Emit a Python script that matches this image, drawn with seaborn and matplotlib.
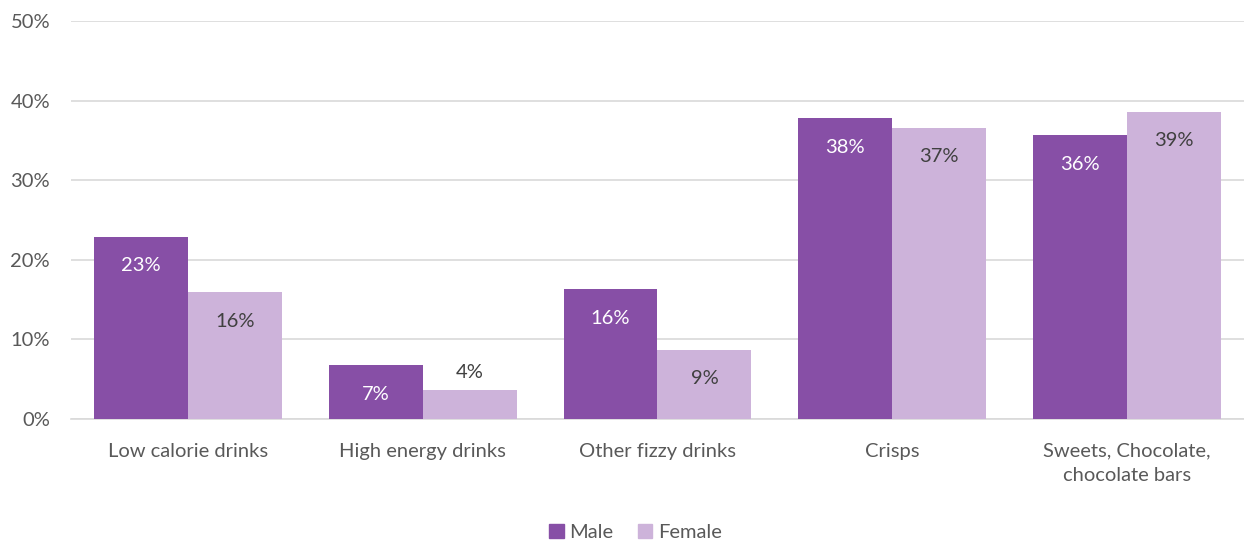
import seaborn as sns
import pandas as pd
import matplotlib.pyplot as plt
from matplotlib.patches import Patch

categories = ["Low calorie drinks", "High energy drinks", "Other fizzy drinks",
              "Crisps", "Sweets, Chocolate,\nchocolate bars"]
male = [22.9, 6.8, 16.3, 37.8, 35.7]
female = [15.9, 3.6, 8.7, 36.6, 38.6]

male_color = "#874FA6"
female_color = "#CDB3DA"

df = pd.DataFrame({
    "category": categories * 2,
    "value": male + female,
    "sex": ["Male"] * len(categories) + ["Female"] * len(categories),
})

sns.set_style("white")
plt.rcParams["font.family"] = ["Lato", "DejaVu Sans"]
fs = 14.5

fig = plt.figure(figsize=(12.44, 5.4), dpi=100)
ax = fig.add_axes([0.057, 0.224, 0.943, 0.737])

sns.barplot(data=df, x="category", y="value", hue="sex",
            palette=[male_color, female_color], order=categories,
            hue_order=["Male", "Female"], width=0.8, saturation=1,
            legend=False, ax=ax, zorder=3, linewidth=0)

ax.set_ylim(0, 50)
ax.set_yticks(range(0, 51, 10))
ax.set_yticklabels([f"{v}%" for v in range(0, 51, 10)])
ax.set_xlim(-0.5, len(categories) - 0.5)
ax.yaxis.grid(True, color="#D9D9D9", linewidth=1.2, zorder=0)
ax.set_axisbelow(True)
for s in ["top", "right", "left"]:
    ax.spines[s].set_visible(False)
ax.spines["bottom"].set_color("#D9D9D9")
ax.spines["bottom"].set_linewidth(1.2)
ax.tick_params(axis="both", length=0, labelsize=fs, labelcolor="#595959")
ax.tick_params(axis="x", pad=17)
ax.tick_params(axis="y", pad=15)
for t in ax.get_xticklabels():
    t.set_linespacing(1.55)
ax.set_xlabel("")
ax.set_ylabel("")

for container, color in zip(ax.containers, ["white", "#404040"]):
    for bar in container:
        h = bar.get_height()
        x = bar.get_x() + bar.get_width() / 2
        label = f"{round(h):.0f}%"
        if h < 5:
            ax.annotate(label, (x, h), xytext=(0, 13), textcoords="offset points",
                        ha="center", va="center", fontsize=fs, color="#404040")
        else:
            ax.annotate(label, (x, h), xytext=(0, -21), textcoords="offset points",
                        ha="center", va="center", fontsize=fs, color=color)

handles = [Patch(color=male_color, label="Male"), Patch(color=female_color, label="Female")]
leg = fig.legend(handles=handles, loc="lower center", bbox_to_anchor=(0.511, -0.035),
                 ncol=2, frameon=False, fontsize=fs, handlelength=0.7,
                 handleheight=0.7, handletextpad=0.3, columnspacing=1.2)
for t in leg.get_texts():
    t.set_color("#595959")

fig.savefig("out.png", dpi=100)
